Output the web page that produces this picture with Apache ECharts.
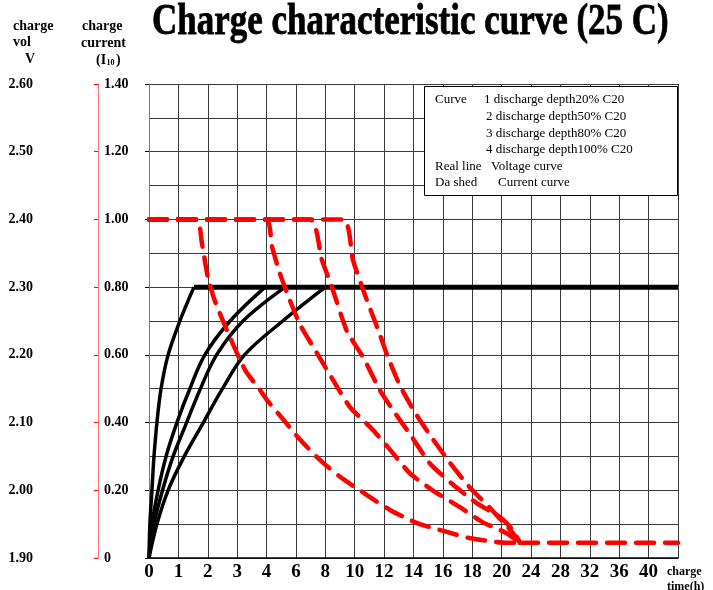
<!DOCTYPE html>
<html>
<head>
<meta charset="utf-8">
<script src="https://cdn.jsdelivr.net/npm/echarts@6/dist/echarts.min.js"></script>
<style>
html,body{margin:0;padding:0;background:#fff;}
#chart{width:713px;height:590px;}
</style>
</head>
<body>
<div id="chart"></div>
<script>
// ---- Data ----
// non-uniform time axis: tick positions in hours (last tick unlabeled)
const xTickHours = [0,1,2,3,4,6,8,10,12,14,16,18,20,24,28,32,36,40,44];
const xTickLabels = ['0','1','2','3','4','6','8','10','12','14','16','18','20','24','28','32','36','40',''];

const voltTicks = [1.90,2.00,2.10,2.20,2.30,2.40,2.50,2.60];
const currentTicks = [0,0.20,0.40,0.60,0.80,1.00,1.20,1.40];

// voltage curves (solid): common voltage levels, time per curve
const voltLevels = [1.90,1.95,2.00,2.05,2.10,2.15,2.20,2.25,2.30];
const v1Hours = [0,0.03,0.10,0.17,0.27,0.41,0.65,1.05,1.53];
const v2Hours = [0,0.10,0.31,0.58,0.95,1.39,1.90,2.76,3.95];
const v3Hours = [0,0.17,0.46,0.82,1.28,1.75,2.30,3.20,5.26];
const v4Hours = [0,0.27,0.65,1.20,1.85,2.50,3.25,5.10,8.00];
const flatHours = [1.53,44];
const flatVolts = [2.30,2.30];

// current curves (dashed)
const c1Hours = [0,1.62,1.80,2.00,2.24,2.69,3.27,3.78,4.02,5.12,6.27,7.63,9.00,10.83,12.40,14.24,16.27,17.80,20.70,22.50];
const c1Current = [1.00,1.00,0.93,0.83,0.76,0.665,0.555,0.496,0.467,0.41,0.35,0.29,0.24,0.186,0.142,0.103,0.077,0.059,0.045,0.045];
const c2Hours = [0,3.98,4.37,4.91,5.60,6.27,7.43,8.52,9.67,11.24,12.40,13.76,15.30,17.16,18.70,20.60,22.50];
const c2Current = [1.00,1.00,0.92,0.84,0.76,0.69,0.605,0.526,0.446,0.378,0.32,0.25,0.20,0.15,0.106,0.074,0.045];
const c3Hours = [0,6.95,7.77,8.45,9.47,10.56,11.71,12.60,13.90,15.10,16.60,18.30,19.90,21.50,22.50];
const c3Current = [1.00,1.00,0.88,0.80,0.67,0.594,0.496,0.437,0.357,0.28,0.22,0.162,0.12,0.083,0.045];
const c4Hours = [0,9.20,9.88,10.70,11.71,12.20,13.07,14.10,15.25,16.50,17.80,19.20,21.50,22.50];
const c4Current = [1.00,1.00,0.88,0.777,0.66,0.60,0.51,0.43,0.355,0.28,0.21,0.148,0.074,0.045];
const tailHours = [22.5,44];
const tailCurrent = [0.045,0.045];

const legendLines = [
  ['Curve', '1 discharge depth20% C20'],
  ['', '2 discharge depth50% C20'],
  ['', '3 discharge depth80% C20'],
  ['', '4 discharge depth100% C20'],
  ['Real line', 'Voltage curve'],
  ['Da shed', 'Current curve']
];

// ---- helpers ----
function toIdx(h){
  for(let i=0;i<xTickHours.length-1;i++){
    const a=xTickHours[i], b=xTickHours[i+1];
    if(h<=b){ return i + (h-a)/(b-a); }
  }
  return xTickHours.length-1;
}
function pairs(hs, vs){ return hs.map((h,i)=>[toIdx(h), vs[i]]); }

const SERIF = '"Liberation Serif","Times New Roman",serif';

const chart = echarts.init(document.getElementById('chart'), null, {renderer:'canvas'});

const blackStyle = {color:'#000', width:3.5};
const redStyle = {color:'#ff0000', width:4.5, type:[18,11], cap:'round'};

function volt(name, hs){
  return {name, type:'line', yAxisIndex:0, data:pairs(hs, voltLevels), symbol:'none',
    smooth:0.35, lineStyle:blackStyle, z:3, silent:true};
}
function curr(name, hs, cs){
  return {name, type:'line', yAxisIndex:1, data:pairs(hs, cs), symbol:'none',
    smooth:0.2, lineStyle:redStyle, z:4, silent:true};
}

const legendX1 = 435, legendX2 = [484,486,486,486,491,498];
const legendY0 = 100, legendDy = 16.6;
const graphics = [];
// title
graphics.push({type:'text', x:152, y:23, scaleX:0.795, z:100,
  style:{text:'Charge characteristic curve (25 C)', font:'bold 44px '+SERIF, fill:'#000',
    stroke:'#000', lineWidth:0.8, textAlign:'left', textVerticalAlign:'middle'}});
// axis names
function t(text,x,y,size,opts){
  graphics.push(Object.assign({type:'text', x, y, z:100,
    style:{text, font:'bold '+size+'px '+SERIF, fill:'#000', textAlign:'left', textVerticalAlign:'middle'}}, opts||{}));
}
t('charge',13,26,14); t('vol',13,42,14); t('V',25,59,14);
t('charge',82,26,14); t('current',81,43,14);
t('(I',96,60,14); t('10',106.5,63,8); t(')',116,60,14);
t('charge',667,572,12); t('time(h)',667,587,12);
// legend box
graphics.push({type:'rect', z:100, shape:{x:424.5, y:86.5, width:253, height:109},
  style:{fill:'#fff', stroke:'#000', lineWidth:1}});
legendLines.forEach((l,i)=>{
  const y = legendY0 + i*legendDy;
  if(l[0]) graphics.push({type:'text', x:legendX1, y, z:101,
    style:{text:l[0], font:'13px '+SERIF, fill:'#000', textAlign:'left', textVerticalAlign:'middle'}});
  graphics.push({type:'text', x:legendX2[i], y, z:101,
    style:{text:l[1], font:'13px '+SERIF, fill:'#000', textAlign:'left', textVerticalAlign:'middle'}});
});

const option = {
  backgroundColor:'#fff',
  animation:false,
  grid:{left:149, top:84, right:35, bottom:32, containLabel:false},
  xAxis:{
    type:'value', min:0, max:xTickHours.length-1, interval:1,
    axisLine:{show:true, onZero:false, lineStyle:{color:'#000', width:1.5}},
    axisTick:{show:false},
    axisLabel:{show:true, margin:5, color:'#000', fontFamily:SERIF, fontWeight:'bold', fontSize:19,
      formatter:(v)=>xTickLabels[Math.round(v)] ?? ''},
    splitLine:{show:true, lineStyle:{color:'#3a3a3a', width:1}}
  },
  yAxis:[
    {type:'value', min:voltTicks[0], max:voltTicks[voltTicks.length-1], interval:0.1,
      position:'left', offset:107,
      axisLine:{show:true, lineStyle:{color:'#777', width:1}},
      axisTick:{show:true, length:4, lineStyle:{color:'#000'}},
      axisLabel:{color:'#000', fontFamily:SERIF, fontWeight:'bold', fontSize:14, margin:9,
        formatter:(v)=>v.toFixed(2)},
      splitLine:{show:true, lineStyle:{color:'#3a3a3a', width:1}},
      minorTick:{show:false, splitNumber:2},
      minorSplitLine:{show:true, lineStyle:{color:'#3a3a3a', width:1}}
    },
    {type:'value', min:currentTicks[0], max:currentTicks[currentTicks.length-1], interval:0.2,
      position:'left', offset:51,
      axisLine:{show:true, lineStyle:{color:'#ff7070', width:1}},
      axisTick:{show:true, length:4, lineStyle:{color:'#ff0000'}},
      axisLabel:{inside:true, color:'#000', fontFamily:SERIF, fontWeight:'bold', fontSize:14, margin:6,
        formatter:(v)=> v===0 ? '0' : v.toFixed(2)},
      splitLine:{show:false}
    }
  ],
  graphic: graphics,
  series:[
    volt('v1', v1Hours), volt('v2', v2Hours), volt('v3', v3Hours), volt('v4', v4Hours),
    {name:'flat', type:'line', yAxisIndex:0, data:pairs(flatHours, flatVolts), symbol:'none',
      lineStyle:{color:'#000', width:5}, z:3, silent:true},
    curr('c1', c1Hours, c1Current), curr('c2', c2Hours, c2Current),
    curr('c3', c3Hours, c3Current), curr('c4', c4Hours, c4Current),
    {name:'tail', type:'line', yAxisIndex:1, data:pairs(tailHours, tailCurrent), symbol:'none',
      lineStyle:redStyle, z:4, silent:true}
  ]
};
chart.setOption(option);
</script>
</body>
</html>
